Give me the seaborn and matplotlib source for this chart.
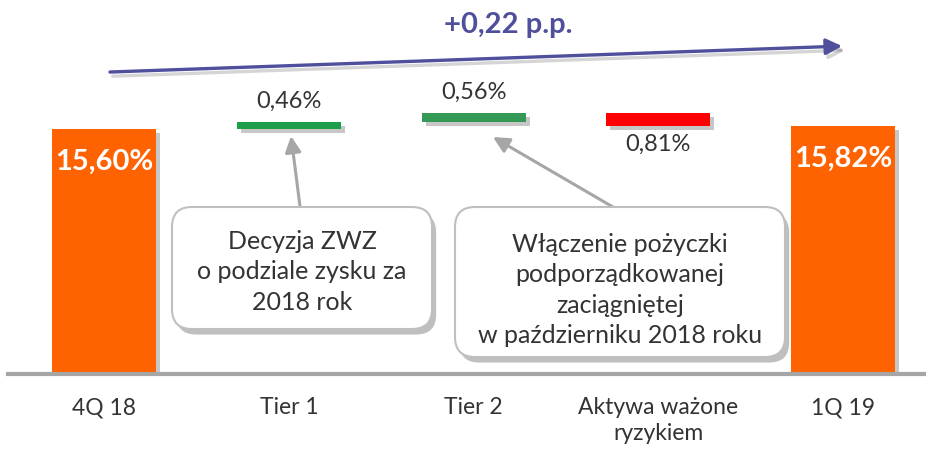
import numpy as np
import pandas as pd
import matplotlib
matplotlib.use("Agg")
import matplotlib.pyplot as plt
import matplotlib.patheffects as pe
from matplotlib.patches import FancyBboxPatch
import seaborn as sns

# ---------------- data ----------------
categories = ["4Q 18", "Tier 1", "Tier 2", "Aktywa ważone\nryzykiem", "1Q 19"]
start_value = 15.60
changes = [0.46, 0.56, -0.81]
end_value = 15.82
value_labels = ["15,60%", "0,46%", "0,56%", "0,81%", "15,82%"]
total_change_label = "+0,22 p.p."
note_tier1 = "Decyzja ZWZ\no podziale zysku za\n2018 rok"
note_tier2 = "Włączenie pożyczki\npodporządkowanej\nzaciągniętej\nw październiku 2018 roku"

# ---------------- style ----------------
sns.set_theme(style="white")
plt.rcParams["font.family"] = ["Lato", "DejaVu Sans"]

ORANGE = "#FF6200"
GREENS = ["#1E9E4A", "#339955"]
RED = "#FF0000"
TXT = "#333333"
GRAY = "#A6A6A6"
PURPLE = "#4F4F9C"

fig = plt.figure(figsize=(9.26, 4.52), dpi=100)
ax = fig.add_axes([8 / 926, 1 - 375 / 452, 1 - 8 / 926, 375 / 452])

shadow = [pe.withSimplePatchShadow(offset=(3, -3), shadow_rgbFace="black", alpha=0.22)]

# totals through seaborn
totals = [start_value, np.nan, np.nan, np.nan, end_value]
df = pd.DataFrame({"cat": categories, "val": totals})
sns.barplot(data=df, x="cat", y="val", color=ORANGE, saturation=1, width=0.563, ax=ax)
for p in ax.patches:
    p.set_path_effects(shadow)
    p.set_edgecolor("none")

# floating steps
bottoms = np.concatenate([[start_value], start_value + np.cumsum(changes)[:-1]])
step_colors = GREENS + [RED]
step_x = np.arange(1, 1 + len(changes))
bars = ax.bar(step_x, changes, bottom=bottoms, width=0.563, color=step_colors,
              edgecolor="none", zorder=3)
for b in bars:
    b.set_path_effects(shadow)

ax.set_xlim(-0.52, 4.449)
ax.set_ylim(0, 23.88)

# labels on totals
for xi, v, lab in [(0, start_value, value_labels[0]), (4, end_value, value_labels[4])]:
    ax.annotate(lab, (xi, v), xytext=(0, -23), textcoords="offset points",
                ha="center", va="center", color="white", fontsize=21,
                fontweight="bold", zorder=5)

# labels on steps
for i, (xi, b, c) in enumerate(zip(step_x, bottoms, changes)):
    top = b + max(c, 0)
    bot = b + min(c, 0)
    lab = value_labels[i + 1]
    if c >= 0:
        ax.annotate(lab, (xi, top), xytext=(0, 8), textcoords="offset points",
                    ha="center", va="bottom", color=TXT, fontsize=17)
    else:
        ax.annotate(lab, (xi, bot), xytext=(0, -5), textcoords="offset points",
                    ha="center", va="top", color=TXT, fontsize=17)

# axis styling
ax.set_xlabel("")
ax.set_ylabel("")
ax.set_yticks([])
ax.set_xticks(range(len(categories)))
ax.set_xticklabels(categories, linespacing=1.3)
ax.tick_params(axis="x", length=0, pad=16, labelsize=16.5, colors=TXT)
for s in ["top", "right", "left"]:
    ax.spines[s].set_visible(False)
ax.spines["bottom"].set_color(GRAY)
ax.spines["bottom"].set_linewidth(3)

# total change arrow
ax.annotate("", xy=(3.995, 20.88), xytext=(0.032, 19.23),
            arrowprops=dict(arrowstyle="-|>,head_length=0.8,head_width=0.4",
                            color=PURPLE, lw=2.4, shrinkA=0, shrinkB=0,
                            path_effects=[pe.SimpleLineShadow(offset=(2, -3), alpha=0.18),
                                          pe.Normal()]),
            annotation_clip=False)
ax.text(2.187, 22.29, total_change_label, ha="center", va="center",
        color=PURPLE, fontsize=21, fontweight="bold")

# callout boxes (inches)
box_shadow = [pe.withSimplePatchShadow(offset=(3, -4), shadow_rgbFace="black", alpha=0.25)]
for (x0, y0, w, h) in [(1.72, 1.22, 2.60, 1.22), (4.55, 0.94, 3.30, 1.50)]:
    bx = FancyBboxPatch((x0, y0), w, h, boxstyle="round,pad=0,rounding_size=0.2",
                        transform=fig.dpi_scale_trans, facecolor="white",
                        edgecolor="#BFBFBF", lw=1.5, zorder=6)
    bx.set_path_effects(box_shadow)
    fig.add_artist(bx)

fig.text(3.02 / 9.26, 1.80 / 4.52, note_tier1, ha="center", va="center",
         fontsize=18, color=TXT, linespacing=1.4, zorder=7)
fig.text(6.20 / 9.26, 1.62 / 4.52, note_tier2, ha="center", va="center",
         fontsize=18, color=TXT, linespacing=1.4, zorder=7)

# pointer arrows from boxes to steps
for tip, tail in [((1.012, 15.15), (1.061, 10.63)), ((2.105, 15.09), (2.755, 10.63))]:
    ax.annotate("", xy=tip, xytext=tail,
                arrowprops=dict(arrowstyle="-|>,head_length=0.8,head_width=0.4",
                                color=GRAY, lw=2.2, shrinkA=0, shrinkB=0),
                annotation_clip=False)

fig.savefig("out.png", dpi=100)
